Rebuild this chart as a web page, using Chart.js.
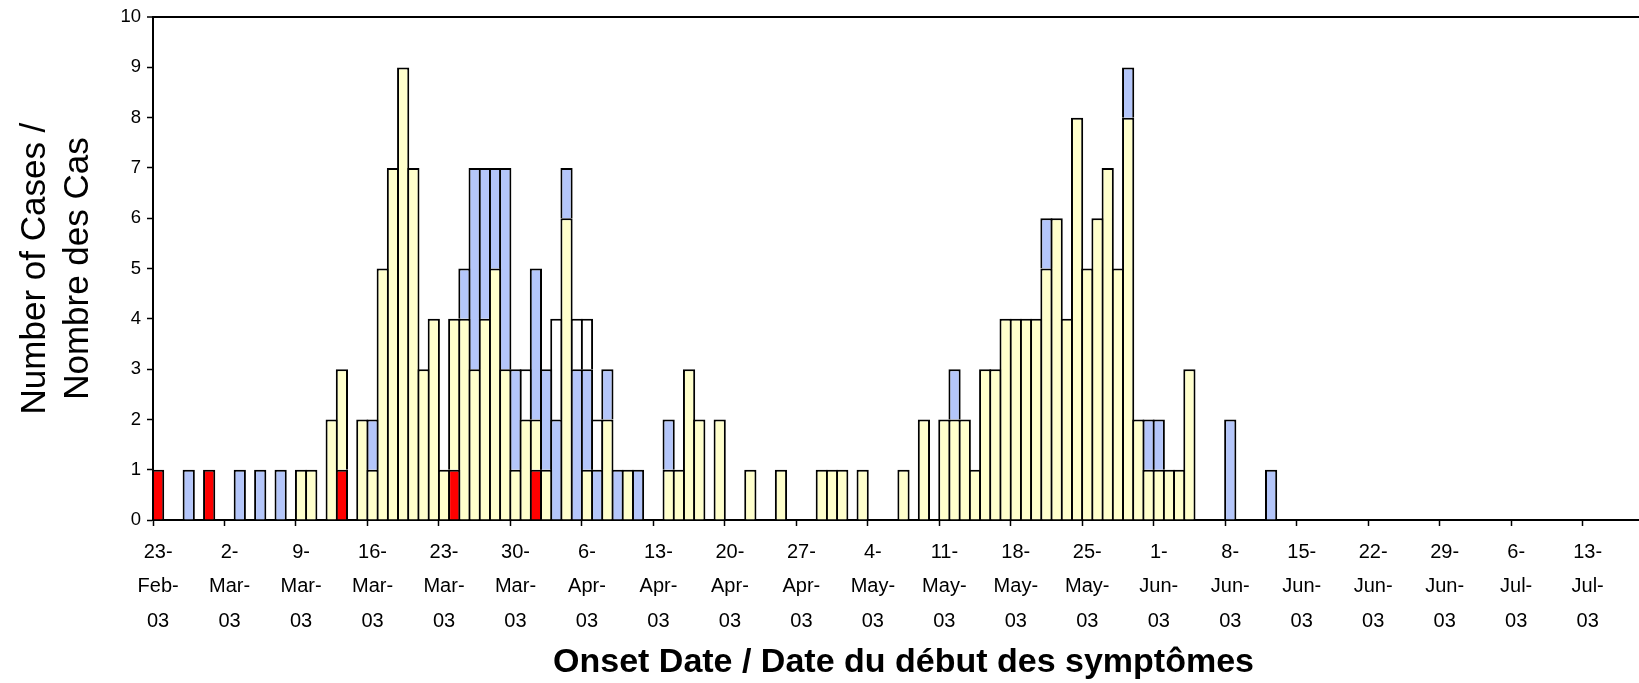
<!DOCTYPE html>
<html>
<head>
<meta charset="utf-8">
<script src="https://cdn.jsdelivr.net/npm/chart.js@4.4.1/dist/chart.umd.min.js"></script>
<style>
  html, body { margin: 0; padding: 0; background: #fff; overflow: hidden; width: 1639px; height: 683px; }
  #wrap { width: 1660px; height: 683px; }
</style>
</head>
<body>
<div id="wrap"><canvas id="c" width="1660" height="683"></canvas></div>
<script>
// Daily categories: 23-Feb-03 .. 19-Jul-03 (147 days)
const categories = [
  '23-Feb-03','24-Feb-03','25-Feb-03','26-Feb-03','27-Feb-03','28-Feb-03','1-Mar-03',
  '2-Mar-03','3-Mar-03','4-Mar-03','5-Mar-03','6-Mar-03','7-Mar-03','8-Mar-03',
  '9-Mar-03','10-Mar-03','11-Mar-03','12-Mar-03','13-Mar-03','14-Mar-03','15-Mar-03',
  '16-Mar-03','17-Mar-03','18-Mar-03','19-Mar-03','20-Mar-03','21-Mar-03','22-Mar-03',
  '23-Mar-03','24-Mar-03','25-Mar-03','26-Mar-03','27-Mar-03','28-Mar-03','29-Mar-03',
  '30-Mar-03','31-Mar-03','1-Apr-03','2-Apr-03','3-Apr-03','4-Apr-03','5-Apr-03',
  '6-Apr-03','7-Apr-03','8-Apr-03','9-Apr-03','10-Apr-03','11-Apr-03','12-Apr-03',
  '13-Apr-03','14-Apr-03','15-Apr-03','16-Apr-03','17-Apr-03','18-Apr-03','19-Apr-03',
  '20-Apr-03','21-Apr-03','22-Apr-03','23-Apr-03','24-Apr-03','25-Apr-03','26-Apr-03',
  '27-Apr-03','28-Apr-03','29-Apr-03','30-Apr-03','1-May-03','2-May-03','3-May-03',
  '4-May-03','5-May-03','6-May-03','7-May-03','8-May-03','9-May-03','10-May-03',
  '11-May-03','12-May-03','13-May-03','14-May-03','15-May-03','16-May-03','17-May-03',
  '18-May-03','19-May-03','20-May-03','21-May-03','22-May-03','23-May-03','24-May-03',
  '25-May-03','26-May-03','27-May-03','28-May-03','29-May-03','30-May-03','31-May-03',
  '1-Jun-03','2-Jun-03','3-Jun-03','4-Jun-03','5-Jun-03','6-Jun-03','7-Jun-03',
  '8-Jun-03','9-Jun-03','10-Jun-03','11-Jun-03','12-Jun-03','13-Jun-03','14-Jun-03',
  '15-Jun-03','16-Jun-03','17-Jun-03','18-Jun-03','19-Jun-03','20-Jun-03','21-Jun-03',
  '22-Jun-03','23-Jun-03','24-Jun-03','25-Jun-03','26-Jun-03','27-Jun-03','28-Jun-03',
  '29-Jun-03','30-Jun-03','1-Jul-03','2-Jul-03','3-Jul-03','4-Jul-03','5-Jul-03',
  '6-Jul-03','7-Jul-03','8-Jul-03','9-Jul-03','10-Jul-03','11-Jul-03','12-Jul-03',
  '13-Jul-03','14-Jul-03','15-Jul-03','16-Jul-03','17-Jul-03','18-Jul-03','19-Jul-03'
];

// Weekly tick labels shown under the axis
const tickLabels = [
  '23-Feb-03','2-Mar-03','9-Mar-03','16-Mar-03','23-Mar-03','30-Mar-03','6-Apr-03',
  '13-Apr-03','20-Apr-03','27-Apr-03','4-May-03','11-May-03','18-May-03','25-May-03',
  '1-Jun-03','8-Jun-03','15-Jun-03','22-Jun-03','29-Jun-03','6-Jul-03','13-Jul-03'
];

// Series values (one row per week, 7 days each)
const redCases = [
  1,0,0,0,0,1,0,  0,0,0,0,0,0,0,  0,0,0,0,1,0,0,  0,0,0,0,0,0,0,
  0,1,0,0,0,0,0,  0,0,1,0,0,0,0,  0,0,0,0,0,0,0,  0,0,0,0,0,0,0,
  0,0,0,0,0,0,0,  0,0,0,0,0,0,0,  0,0,0,0,0,0,0,  0,0,0,0,0,0,0,
  0,0,0,0,0,0,0,  0,0,0,0,0,0,0,  0,0,0,0,0,0,0,  0,0,0,0,0,0,0,
  0,0,0,0,0,0,0,  0,0,0,0,0,0,0,  0,0,0,0,0,0,0,  0,0,0,0,0,0,0,
  0,0,0,0,0,0,0
];
const yellowCases = [
  0,0,0,0,0,0,0,  0,0,0,0,0,0,0,  1,1,0,2,2,0,2,  1,5,7,9,7,3,4,
  1,3,4,3,4,5,3,  1,2,1,1,0,6,0,  1,0,2,0,1,0,0,  0,1,1,3,2,0,2,
  0,0,1,0,0,1,0,  0,0,1,1,1,0,1,  0,0,0,1,0,2,0,  2,2,2,1,3,3,4,
  4,4,4,5,6,4,8,  5,6,7,5,8,2,1,  1,1,1,3,0,0,0,  0,0,0,0,0,0,0,
  0,0,0,0,0,0,0,  0,0,0,0,0,0,0,  0,0,0,0,0,0,0,  0,0,0,0,0,0,0,
  0,0,0,0,0,0,0
];
const blueCases = [
  0,0,0,1,0,0,0,  0,1,0,1,0,1,0,  0,0,0,0,0,0,0,  1,0,0,0,0,0,0,
  0,0,1,4,3,2,4,  2,0,3,2,2,1,3,  2,1,1,1,0,1,0,  0,1,0,0,0,0,0,
  0,0,0,0,0,0,0,  0,0,0,0,0,0,0,  0,0,0,0,0,0,0,  0,1,0,0,0,0,0,
  0,0,0,1,0,0,0,  0,0,0,0,1,0,1,  1,0,0,0,0,0,0,  2,0,0,0,1,0,0,
  0,0,0,0,0,0,0,  0,0,0,0,0,0,0,  0,0,0,0,0,0,0,  0,0,0,0,0,0,0,
  0,0,0,0,0,0,0
];
const whiteCases = [
  0,0,0,0,0,0,0,  0,0,0,0,0,0,0,  0,0,0,0,0,0,0,  0,0,0,0,0,0,0,
  0,0,0,0,0,0,0,  0,1,0,0,2,0,1,  1,1,0,0,0,0,0,  0,0,0,0,0,0,0,
  0,0,0,0,0,0,0,  0,0,0,0,0,0,0,  0,0,0,0,0,0,0,  0,0,0,0,0,0,0,
  0,0,0,0,0,0,0,  0,0,0,0,0,0,0,  0,0,0,0,0,0,0,  0,0,0,0,0,0,0,
  0,0,0,0,0,0,0,  0,0,0,0,0,0,0,  0,0,0,0,0,0,0,  0,0,0,0,0,0,0,
  0,0,0,0,0,0,0
];

const yTitle = ['Number of Cases /', 'Nombre des Cas'];
const xTitle = 'Onset Date / Date du début des symptômes';

const regular = "'Liberation Sans', Arial, sans-serif";

const mk = (label, arr, color) => ({
  label: label,
  data: arr.map(v => (v ? v : null)),
  backgroundColor: color,
  borderColor: '#000',
  borderWidth: 2,
  borderSkipped: 'start',
  inflateAmount: 0,
  categoryPercentage: 1,
  barPercentage: 1.196
});

new Chart(document.getElementById('c'), {
  type: 'bar',
  data: {
    labels: categories,
    datasets: [
      mk('Red', redCases, '#FF0000'),
      mk('Yellow', yellowCases, '#FFFFCC'),
      mk('Blue', blueCases, '#B4C6FA'),
      mk('White', whiteCases, '#FFFFFF')
    ]
  },
  options: {
    responsive: false,
    animation: false,
    devicePixelRatio: 1,
    layout: { padding: { top: 15, right: 6, left: 0, bottom: 0 } },
    plugins: { legend: { display: false }, tooltip: { enabled: false } },
    scales: {
      x: {
        stacked: true,
        offset: true,
        afterFit: s => { s.height = 163; },
        grid: {
          offset: true,
          drawOnChartArea: false,
          drawTicks: true,
          tickLength: 6,
          tickWidth: 1.5,
          color: 'rgba(0,0,0,0)',
          tickColor: ctx => (ctx.index !== undefined && ctx.index % 7 === 0 ? '#000' : 'rgba(0,0,0,0)')
        },
        border: { display: true, color: '#000', width: 2 },
        ticks: {
          autoSkip: false,
          maxRotation: 0,
          minRotation: 0,
          padding: 9,
          color: '#000',
          font: { family: regular, size: 20, lineHeight: 1.72 },
          callback: (value, index) => (index % 7 === 0 ? tickLabels[index / 7].split(/(?<=-)/) : '')
        },
        title: {
          display: true,
          text: xTitle,
          color: '#000',
          font: { family: regular, size: 34, weight: 'bold', lineHeight: 1.2 },
          padding: { top: 0, bottom: 0 }
        }
      },
      y: {
        stacked: true,
        min: 0,
        max: 10,
        afterFit: s => { s.width = 153; },
        grid: {
          drawTicks: true,
          tickLength: 6,
          tickWidth: 1.5,
          tickColor: '#000',
          color: ctx => (ctx.tick && ctx.tick.value === 10 ? '#000' : 'rgba(0,0,0,0)'),
          lineWidth: ctx => (ctx.tick && ctx.tick.value === 10 ? 2 : 1)
        },
        border: { display: true, color: '#000', width: 2 },
        ticks: {
          stepSize: 1,
          padding: 6,
          color: '#000',
          font: { family: regular, size: 18.5 }
        },
        title: {
          display: true,
          text: yTitle,
          color: '#000',
          font: { family: regular, size: 35, lineHeight: 1.25 },
          padding: { top: 13, bottom: 0 }
        }
      }
    }
  }
});
</script>
</body>
</html>
